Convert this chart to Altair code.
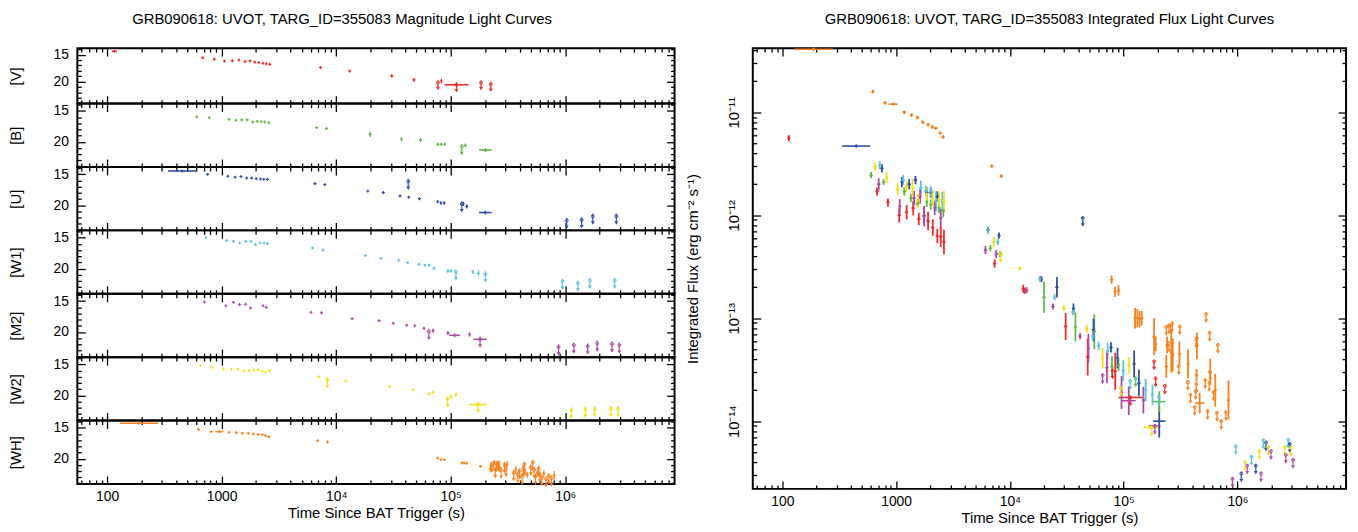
import math
import altair as alt
import pandas as pd

FONT = "Liberation Sans"
FILTERS = ["V", "B", "U", "W1", "M2", "W2", "WH"]
COLORS = ["#ee2b2b", "#63b946", "#2e4fa6", "#5cc5dc", "#b04aa6", "#f2df1a", "#f4821f"]

TITLE_L = "GRB090618: UVOT, TARG_ID=355083 Magnitude Light Curves"
TITLE_R = "GRB090618: UVOT, TARG_ID=355083 Integrated Flux Light Curves"
XTITLE = "Time Since BAT Trigger (s)"
YTITLE_R = "Integrated Flux (erg cm⁻² s⁻¹)"

# ---------------- magnitude light curves ----------------
V_T = [684, 863, 1059, 1242, 1419, 1600, 1767, 1951, 2113, 2302, 2460, 2630, 7300, 13100, 30600, 47800, 77400, 83000, 184000, 224000]
V_MAG = [15.6, 15.85, 16.2, 16.15, 16.0, 16.3, 16.2, 16.4, 16.45, 16.6, 16.7, 16.8, 17.4, 18.05, 18.95, 19.7, 20.2, 19.9, 20.2, 20.5]
V_ERR = [0.08, 0.08, 0.08, 0.08, 0.08, 0.08, 0.1, 0.1, 0.1, 0.12, 0.12, 0.15, 0.1, 0.12, 0.3, 0.35, 0, 0.4, 0, 0]
V_UL = [0] * 16 + [1, 0, 1, 1]

B_T = [607, 781, 1164, 1331, 1497, 1674, 1877, 2043, 2213, 2383, 2579, 6750, 8230, 19800, 37200, 54500, 77400, 82700, 88500, 125000, 134000]
B_MAG = [15.97, 16.1, 16.35, 16.5, 16.45, 16.45, 16.8, 16.7, 16.75, 16.8, 16.9, 17.7, 17.85, 18.8, 19.55, 19.7, 20.4, 20.4, 20.4, 20.8, 20.6]
B_ERR = [0.08] * 6 + [0.1] * 7 + [0.45, 0.3, 0.35, 0.25, 0.25, 0.25, 0, 0.3]
B_UL = [0] * 19 + [1, 0]

U_T = [755, 1133, 1310, 1476, 1654, 1828, 2004, 2185, 2334, 2512, 6530, 7960, 18900, 25800, 36100, 42600, 43000, 53300, 76900, 82200, 87900, 125000, 129000, 138000, 1030000, 1390000, 1740000, 2790000]
U_MAG = [15.0, 15.3, 15.45, 15.35, 15.6, 15.6, 15.7, 15.75, 15.8, 15.8, 16.5, 16.65, 17.7, 17.95, 18.5, 16.15, 18.7, 18.95, 19.45, 19.65, 19.65, 19.8, 19.8, 20.2, 22.5, 22.4, 21.8, 21.8]
U_ERR = [0.06] * 12 + [0.08, 0.15, 0.12, 0, 0.12, 0.15, 0.2, 0.25, 0.25, 0, 0.35, 0.35, 0, 0, 0, 0]
U_UL = [0] * 15 + [1] + [0] * 5 + [1, 0, 0] + [1] * 4

W1_T = [731, 1105, 1268, 1437, 1622, 1803, 1977, 2168, 2349, 2512, 6220, 7690, 18000, 24600, 35200, 42100, 52800, 59500, 64800, 71600, 94600, 100500, 111000, 156000, 175000, 201000, 946000, 1290000, 1640000, 2700000]
W1_MAG = [15.0, 15.45, 15.55, 15.85, 15.6, 15.6, 16.1, 15.85, 15.85, 15.95, 16.65, 17.0, 17.9, 18.35, 18.65, 19.05, 19.3, 19.45, 19.45, 19.95, 20.4, 20.4, 20.55, 20.55, 20.8, 20.9, 22.1, 22.4, 21.95, 21.95]
W1_ERR = [0.06] * 12 + [0.08, 0.08, 0.08, 0.1, 0.15, 0.15, 0.2, 0.25, 0.3, 0.3, 0, 0.35, 0.5, 0, 0, 0, 0, 0]
W1_UL = [0] * 22 + [1, 0, 0, 1] + [1] * 4

M2_T = [708, 1089, 1268, 1435, 1618, 1786, 2301, 2455, 6030, 7450, 13800, 23700, 31500, 41300, 48400, 58400, 64500, 70200, 94600, 146000, 874000, 1190000, 1570000, 1900000, 2560000, 2960000]
M2_MAG = [15.15, 15.75, 15.2, 15.55, 15.5, 16.1, 15.75, 16.0, 16.8, 16.9, 17.85, 18.15, 18.6, 18.9, 19.0, 19.4, 19.95, 19.8, 20.2, 20.4, 22.45, 22.15, 22.3, 21.85, 21.95, 22.15]
M2_ERR = [0.07] * 8 + [0.08, 0.08, 0.1, 0.1, 0.12, 0.12, 0.15, 0.2, 0, 0.35, 0.3, 0.35] + [0] * 6
M2_UL = [0] * 16 + [1] + [0] * 3 + [1] * 6

W2_T = [653, 824, 1038, 1216, 1390, 1567, 1733, 1916, 2086, 2260, 2415, 2615, 7060, 8380, 12100, 29400, 47100, 64500, 70200, 94000, 100500, 111000, 1130000, 1500000, 1810000, 2510000, 2880000]
W2_MAG = [15.2, 15.45, 15.75, 15.75, 15.75, 16.05, 16.0, 15.9, 15.9, 16.1, 16.2, 16.0, 17.0, 17.5, 17.65, 18.6, 19.1, 19.75, 19.5, 20.6, 20.2, 19.85, 22.4, 22.3, 22.2, 22.2, 22.2]
W2_ERR = [0.06] * 12 + [0.1, 0, 0.05, 0.08, 0.1, 0.3, 0.3, 0, 0.3, 0.3] + [0] * 5
W2_UL = [0] * 13 + [1] + [0] * 5 + [1, 0, 0] + [1] * 5

WH_T = [628, 807, 1164, 1346, 1517, 1710, 1889, 2086, 2260, 2415, 2579, 6890, 8390,
        76900, 82300, 87900, 125000, 131000, 138000, 182000,
        222000, 228000, 235000, 240000, 245000, 250000, 255000, 262000, 268000, 275000,
        295000, 305000, 310000, 355000, 370000, 385000, 400000, 420000, 430000, 440000,
        445000, 466000, 500000, 520000, 535000, 550000, 570000, 585000, 600000, 625000,
        650000, 680000, 720000, 760000, 800000]
WH_MAG = [15.25, 15.6, 15.7, 15.75, 15.85, 15.9, 16.0, 16.05, 16.1, 16.25, 16.45, 17.1, 17.3,
          19.9, 20.15, 20.15, 20.7, 20.7, 20.75, 21.25,
          21.6, 20.9, 21.2, 20.6, 21.8, 20.8, 21.3, 20.7, 21.5, 21.9,
          21.0, 21.6, 20.9, 22.3, 21.8, 22.6, 22.0, 22.9, 21.5, 20.9,
          22.2, 22.6, 21.4, 20.6, 21.8, 22.9, 22.3, 21.6, 22.5, 23.1,
          22.4, 23.3, 22.8, 23.2, 22.7]
WH_ERR = [0.05] * 13 + [0.12, 0.12, 0.12, 0.15, 0.15, 0.15, 0.2] + \
         [0.6, 0, 0.5, 0.4, 0, 0, 0.5, 0, 0.6, 0, 0, 0, 0.5, 0, 0.6, 0, 0, 0, 0, 0,
          0.6, 0.5, 0, 0, 0, 0, 0.6, 0, 0, 0, 0.6, 0, 0, 0, 0.7]
WH_UL = [0] * 20 + [0, 1, 0, 0, 1, 1, 0, 1, 0, 1, 1, 1, 0, 1, 0, 1, 1, 1, 1, 1,
                    0, 0, 1, 1, 1, 1, 0, 1, 1, 1, 0, 1, 1, 1, 0]

# wide time bins in the magnitude panels
MB_FILTER = ["V", "V", "B", "U", "U", "M2", "M2", "W2", "WH", "WH"]
MB_T0 = [110, 88500, 177000, 341, 177000, 97000, 158000, 145000, 130, 881]
MB_T1 = [122, 143000, 228000, 600, 228000, 121000, 206000, 207000, 279, 1035]
MB_MAG = [14.4, 20.6, 21.35, 14.45, 21.2, 20.55, 21.2, 21.5, 14.25, 15.6]
MB_ERR = [0.1, 0, 0.3, 0.05, 0.3, 0.3, 0, 0, 0.05, 0.05]
MB_UL = [0, 1, 0, 0, 0, 0, 1, 1, 0, 0]

# ---------------- integrated flux light curves ----------------
V_FT = [114, 680, 848, 1066, 1237, 1413, 1582, 1762, 1910, 2100, 2302, 2467, 2633, 7340, 13100, 13500, 30900, 48300, 79800, 84300, 185000, 191000, 230000]
V_F = [5.6e-12, 1.7e-12, 1.33e-12, 1.0e-12, 1.07e-12, 1.17e-12, 9.2e-13, 9.9e-13, 8.8e-13, 7.6e-13, 6.3e-13, 6.2e-13, 5.5e-13, 3.4e-13, 1.93e-13, 1.85e-13, 8.3e-14, 4.2e-14, 3.1e-14, 3.05e-14, 3.8e-14, 2.6e-14, 2.2e-14]
V_FE = [0.03, 0.04, 0.04, 0.07, 0.07, 0.07, 0.06, 0.08, 0.09, 0.08, 0.07, 0.1, 0.12, 0.04, 0.04, 0.03, 0.13, 0.18, 0, 0.18, 0, 0, 0]
V_FUL = [0] * 18 + [1, 0, 1, 1, 1]

B_FT = [603, 776, 1180, 1348, 1541, 1860, 2013, 2381, 2600, 6730, 8200, 19950, 37700, 55200, 78900, 90100, 127600]
B_F = [2.45e-12, 2.1e-12, 1.7e-12, 1.47e-12, 1.3e-12, 1.35e-12, 1.27e-12, 1.18e-12, 1.1e-12, 4.8e-13, 4.2e-13, 1.6e-13, 8.2e-14, 7.4e-14, 3.4e-14, 3.5e-14, 2.6e-14]
B_FE = [0.03, 0.03, 0.04, 0.04, 0.03, 0.05, 0.05, 0.05, 0.06, 0.03, 0.03, 0.15, 0.14, 0.17, 0.1, 0.06, 0]
B_FUL = [0] * 16 + [1]

U_FT = [751, 1124, 1303, 1480, 1860, 2013, 2302, 6430, 8020, 18900, 25900, 36200, 43700, 54300, 77300, 88300, 123600, 136000, 1080000, 1450000, 1780000, 2880000]
U_F = [2.85e-12, 2.1e-12, 2.0e-12, 2.2e-12, 1.66e-12, 1.67e-12, 1.52e-12, 7.2e-13, 6.35e-13, 2.4e-13, 2.0e-13, 1.24e-13, 9.4e-13, 7.7e-14, 5.2e-14, 4.1e-14, 3.6e-14, 2.35e-14, 3.1e-15, 3.7e-15, 6.2e-15, 6.0e-15]
U_FE = [0.04, 0.05, 0.05, 0.04, 0.05, 0.05, 0.05, 0.03, 0.03, 0.03, 0.1, 0.05, 0, 0.11, 0.05, 0.1, 0.13, 0.13, 0, 0, 0, 0]
U_FUL = [0] * 12 + [1] + [0] * 5 + [1] * 4

W1_FT = [718, 1156, 1648, 1824, 2013, 2244, 2548, 6430, 7820, 18300, 24700, 35800, 53400, 60300, 72300, 99100, 114000, 156000, 179000, 204000, 966000, 1330000, 1690000, 2790000]
W1_F = [3.06e-12, 2.2e-12, 1.85e-12, 1.73e-12, 1.7e-12, 1.37e-12, 1.37e-12, 7.1e-13, 5.5e-13, 2.4e-13, 1.6e-13, 1.15e-13, 6.7e-14, 5.4e-14, 4.8e-14, 3.1e-14, 2.45e-14, 2.0e-14, 1.8e-14, 1.7e-14, 5.7e-15, 4.5e-15, 6.5e-15, 6.6e-15]
W1_FE = [0.04, 0.05, 0.07, 0.05, 0.05, 0.1, 0.09, 0.03, 0.03, 0.03, 0.03, 0.03, 0.05, 0.04, 0.08, 0.1, 0, 0.11, 0.1, 0, 0, 0, 0, 0]
W1_FUL = [0] * 16 + [1, 0, 0, 1] + [1] * 4

M2_FT = [703, 1076, 1441, 1626, 1762, 2184, 2467, 6100, 7590, 14000, 23900, 41400, 49000, 65300, 71300, 95700, 149000, 904000, 1220000, 1610000, 1970000, 2660000, 3080000]
M2_F = [2.0e-12, 1.22e-12, 1.47e-12, 1.52e-12, 9.8e-13, 1.18e-12, 9.4e-13, 4.6e-13, 4.2e-13, 1.87e-13, 1.3e-13, 6.7e-14, 5.1e-14, 2.8e-14, 3.3e-14, 1.9e-14, 1.6e-14, 2.75e-15, 3.7e-15, 3.1e-15, 5.1e-15, 4.7e-15, 4.2e-15]
M2_FE = [0.06, 0.07, 0.07, 0.07, 0.1, 0.07, 0.09, 0.04, 0.04, 0.03, 0.03, 0.03, 0.14, 0, 0.15, 0.16, 0.13, 0, 0, 0, 0, 0, 0]
M2_FUL = [0] * 13 + [1] + [0] * 3 + [1] * 6

W2_FT = [653, 826, 1030, 1237, 1394, 1563, 1860, 2100, 2381, 2633, 7210, 8330, 12200, 29800, 47300, 65300, 94400, 111800, 1170000, 1560000, 1870000, 2610000, 2950000]
W2_F = [2.96e-12, 2.33e-12, 1.8e-12, 1.9e-12, 1.86e-12, 1.39e-12, 1.6e-12, 1.47e-12, 1.42e-12, 1.37e-12, 5.5e-13, 4.2e-13, 3.05e-13, 1.25e-13, 7.9e-14, 4.1e-14, 2.1e-14, 3.5e-14, 4.0e-15, 5.1e-15, 5.6e-15, 5.6e-15, 5.5e-15]
W2_FE = [0.04, 0.05, 0.06, 0.05, 0.08, 0.07, 0.06, 0.08, 0.08, 0.1, 0.05, 0, 0.02, 0.03, 0.04, 0.1, 0, 0.08, 0, 0, 0, 0, 0]
W2_FUL = [0] * 11 + [1] + [0] * 4 + [1, 0] + [1] * 5

WH_FT = [624, 798, 1180, 1366, 1540, 1714, 1910, 2083, 2228, 2433, 2583, 6920, 8400,
         78300, 83800, 90100, 126000, 132000, 138000, 144000, 185000, 191000,
         237000, 237000, 241000, 250000, 250000, 258000, 262000, 267000, 270000, 305000,
         309000, 311000, 366000, 368000, 386000, 421000, 430000, 433000, 435000, 437000,
         440000, 440000, 522000, 530000, 547000, 566000, 570000, 577000, 577000, 616000,
         638000, 661000, 673000, 720000, 791000, 834000]
WH_F = [1.59e-11, 1.24e-11, 1.0e-11, 9.4e-12, 8.9e-12, 8.0e-12, 7.6e-12, 7.2e-12, 7.0e-12, 6.3e-12, 5.75e-12, 3.0e-12, 2.4e-12,
        2.37e-13, 1.8e-13, 1.86e-13, 1.0e-13, 1.0e-13, 9.8e-14, 1.0e-13, 6.6e-14, 5.6e-14,
        8.2e-14, 3.4e-14, 5.5e-14, 8.5e-14, 5.7e-14, 8.5e-14, 4.7e-14, 8.9e-14, 4.4e-14, 3.4e-14,
        4.5e-14, 8.3e-14, 2.4e-14, 3.6e-14, 1.8e-14, 1.37e-14, 1.95e-14, 6.2e-14, 2.3e-14, 2.8e-14,
        6.4e-14, 5.4e-14, 2.5e-14, 1.1e-13, 1.25e-14, 2.35e-14, 7.2e-14, 3.0e-14, 3.0e-14, 1.9e-14,
        2.0e-14, 1.2e-14, 5.5e-14, 1.0e-14, 1.22e-14, 1.6e-14]
WH_FE = [0.015] * 13 + [0.04, 0.05, 0.05, 0.1, 0.09, 0.08, 0.07, 0.18, 0.07,
                        0, 0.11, 0.08, 0, 0, 0, 0.2, 0, 0.16, 0,
                        0.12, 0, 0, 0.14, 0, 0, 0, 0, 0, 0.06,
                        0, 0.13, 0, 0, 0, 0, 0, 0, 0.13, 0,
                        0.16, 0, 0, 0, 0, 0.19]
WH_FUL = [0] * 22 + [1, 0, 0, 1, 1, 1, 0, 1, 0, 1,
                     0, 1, 1, 0, 1, 1, 1, 1, 1, 0,
                     1, 0, 1, 1, 1, 1, 1, 1, 0, 1,
                     0, 1, 1, 1, 1, 0]

# wide time bins in the flux panel
FB_FILTER = ["WH", "WH", "WH", "U", "U", "V", "M2", "M2", "B", "W2"]
FB_T0 = [127, 859, 421000, 336, 181000, 90100, 96400, 167000, 181000, 149000]
FB_T1 = [279, 1030, 514000, 592, 233000, 146000, 127600, 211000, 233000, 208000]
FB_FLUX = [4.1e-11, 1.2e-11, 1.5e-14, 4.7e-12, 1.0e-14, 1.7e-14, 1.58e-14, 9e-15, 1.55e-14, 8.7e-15]
FB_ERR = [0.01, 0.01, 0.1, 0.01, 0.16, 0, 0.14, 0, 0.1, 0]
FB_UL = [0, 0, 0, 0, 0, 1, 0, 1, 0, 1]

# ---------------- axes ----------------
XDOM = [55, 9.0e6]
MAGDOM = [13.8, 24.1]
FLUXDOM = [2.2e-15, 4.2e-11]
X_TICKS = [100, 1000, 1e4, 1e5, 1e6]
X_LABELS = ["100", "1000", "10⁴", "10⁵", "10⁶"]
X_MINOR = [m * 10 ** k for k in range(1, 7) for m in range(2, 10) if XDOM[0] < m * 10 ** k < XDOM[1]]
MAG_TICKS = [15, 20]
MAG_MINOR = [14, 16, 17, 18, 19, 21, 22, 23, 24]
F_TICKS = [1e-14, 1e-13, 1e-12, 1e-11]
F_LABELS = ["10⁻¹⁴", "10⁻¹³", "10⁻¹²", "10⁻¹¹"]
F_MINOR = [m * 10.0 ** k for k in range(-15, -10) for m in range(2, 10) if FLUXDOM[0] < m * 10.0 ** k < FLUXDOM[1]]

MAG_SERIES = [("V", V_T, V_MAG, V_ERR, V_UL), ("B", B_T, B_MAG, B_ERR, B_UL), ("U", U_T, U_MAG, U_ERR, U_UL),
              ("W1", W1_T, W1_MAG, W1_ERR, W1_UL), ("M2", M2_T, M2_MAG, M2_ERR, M2_UL),
              ("W2", W2_T, W2_MAG, W2_ERR, W2_UL), ("WH", WH_T, WH_MAG, WH_ERR, WH_UL)]
FLUX_SERIES = [("V", V_FT, V_F, V_FE, V_FUL), ("B", B_FT, B_F, B_FE, B_FUL), ("U", U_FT, U_F, U_FE, U_FUL),
               ("W1", W1_FT, W1_F, W1_FE, W1_FUL), ("M2", M2_FT, M2_F, M2_FE, M2_FUL),
               ("W2", W2_FT, W2_F, W2_FE, W2_FUL), ("WH", WH_FT, WH_F, WH_FE, WH_FUL)]


def build(series, bins):
    rows = []
    for f, T, V, E, U in series:
        for t, v, e, u in zip(T, V, E, U):
            rows.append(dict(filter=f, t=t, t0=t, t1=t, val=v, err=e, ul=u, bin=0))
    for f, t0, t1, v, e, u in zip(*bins):
        rows.append(dict(filter=f, t=math.sqrt(t0 * t1), t0=t0, t1=t1, val=v, err=e, ul=u, bin=1))
    return pd.DataFrame(rows)


mag_df = build(MAG_SERIES, (MB_FILTER, MB_T0, MB_T1, MB_MAG, MB_ERR, MB_UL))
mag_df["lo"] = mag_df.val - mag_df.err
mag_df["hi"] = mag_df.val + mag_df.err
mag_df["ua"] = mag_df.val - 0.45
mag_df["ub"] = mag_df.val + 1.1

flux_df = build(FLUX_SERIES, (FB_FILTER, FB_T0, FB_T1, FB_FLUX, FB_ERR, FB_UL))
flux_df["lo"] = flux_df.val / 10 ** flux_df.err
flux_df["hi"] = flux_df.val * 10 ** flux_df.err
flux_df["ua"] = flux_df.val * 1.04
flux_df["ub"] = flux_df.val / 1.17


def label_expr(ticks, labels):
    expr = "''"
    for v, l in zip(reversed(ticks), reversed(labels)):
        expr = f"round(log(datum.value) / LN10) == {round(math.log10(v))} ? '{l}' : {expr}"
    return expr


X_EXPR = label_expr(X_TICKS, X_LABELS)
F_EXPR = label_expr(F_TICKS, F_LABELS)


def ax(orient, values, size, **kw):
    base = dict(orient=orient, values=values, tickSize=size, offset=-size, domain=False, grid=False,
                tickColor="black", tickWidth=1.3, labels=False,
                labelFont=FONT, labelFontSize=14, labelColor="black",
                titleFont=FONT, titleFontSize=15, titleFontWeight="normal", titleColor="black")
    base.update(kw)
    return alt.Axis(**base)


XS = alt.Scale(type="log", domain=XDOM, nice=False)


def panel(src, ys, color, axes, xtitle, ytitle, pt_size, err_w, head_size):
    """axes: list of 4 (xaxis, yaxis) pairs for carriers."""
    carrier = alt.Chart(src).mark_point(opacity=0)
    layers = []
    for i, (xa, ya) in enumerate(axes):
        layers.append(carrier.encode(
            x=alt.X("t:Q", scale=XS, axis=xa, title=xtitle if i == 0 else None),
            y=alt.Y("val:Q", scale=ys, axis=ya, title=ytitle if i == 0 else None)))
    base = alt.Chart(src)
    xe = alt.X("t:Q", scale=XS, axis=None)
    layers.append(base.transform_filter("datum.bin == 1").mark_rule(strokeWidth=1.6).encode(
        x=alt.X("t0:Q", scale=XS, axis=None), x2="t1:Q", y=alt.Y("val:Q", scale=ys, axis=None), color=color))
    layers.append(base.transform_filter("datum.ul == 0").mark_rule(strokeWidth=err_w).encode(
        x=xe, y=alt.Y("lo:Q", scale=ys, axis=None), y2="hi:Q", color=color))
    layers.append(base.transform_filter("datum.ul == 0").mark_point(shape="cross", filled=True, size=pt_size, opacity=1).encode(
        x=xe, y=alt.Y("val:Q", scale=ys, axis=None), color=color))
    layers.append(base.transform_filter("datum.ul == 1").mark_rule(strokeWidth=1.2).encode(
        x=xe, y=alt.Y("ua:Q", scale=ys, axis=None), y2="ub:Q", color=color))
    layers.append(base.transform_filter("datum.ul == 1").mark_point(shape="triangle-down", filled=True, size=head_size, opacity=1).encode(
        x=xe, y=alt.Y("ub:Q", scale=ys, axis=None), color=color))
    layers.append(base.transform_filter("datum.ul == 1").mark_point(shape="circle", filled=False, size=9, strokeWidth=1, opacity=1).encode(
        x=xe, y=alt.Y("val:Q", scale=ys, axis=None), color=color))
    return alt.layer(*layers).resolve_axis(x="independent", y="independent")


# ---------------- left: seven magnitude panels ----------------
MAG_YS = alt.Scale(domain=MAGDOM, reverse=True, nice=False, zero=False)
left_panels = []
for i, (f, col) in enumerate(zip(FILTERS, COLORS)):
    last = i == len(FILTERS) - 1
    src = mag_df[mag_df["filter"] == f]
    xb_major = ax("bottom", X_TICKS, 8, labels=last, labelExpr=X_EXPR, labelPadding=6,
                  labelOverlap=False, labelFlush=False, titlePadding=2) if last else ax("bottom", X_TICKS, 8)
    axes = [
        (xb_major, ax("left", MAG_TICKS, 8, labels=True, labelPadding=9, minExtent=40, maxExtent=40, titlePadding=22)),
        (ax("bottom", X_MINOR, 4), ax("left", MAG_MINOR, 4)),
        (ax("top", X_TICKS, 8), ax("right", MAG_TICKS, 8)),
        (ax("top", X_MINOR, 4), ax("right", MAG_MINOR, 4)),
    ]
    p = panel(src, MAG_YS, alt.value(col), axes, XTITLE if last else None, f"[{f}]", 9, 1.2, 16)
    left_panels.append(p.properties(width=603, height=56 if i == 0 else 64))

left = alt.vconcat(*left_panels, spacing=0, bounds="flush",
                   title=alt.TitleParams(TITLE_L, font=FONT, fontSize=15, fontWeight="normal",
                                         color="black", anchor="middle", offset=20))

# ---------------- right: integrated flux ----------------
FLUX_YS = alt.Scale(type="log", domain=FLUXDOM, nice=False)
color_enc = alt.Color("filter:N", scale=alt.Scale(domain=FILTERS, range=COLORS), legend=None)
r_axes = [
    (ax("bottom", X_TICKS, 8, labels=True, labelExpr=X_EXPR, labelPadding=6, labelOverlap=False,
        labelFlush=False, titlePadding=2),
     ax("left", F_TICKS, 8, labels=True, labelExpr=F_EXPR, labelAngle=270, labelAlign="center",
        labelBaseline="bottom", labelPadding=11, labelFontSize=15, labelOverlap=False, labelFlush=False,
        minExtent=36, maxExtent=36, titlePadding=25)),
    (ax("bottom", X_MINOR, 4), ax("left", F_MINOR, 4)),
    (ax("top", X_TICKS, 8), ax("right", F_TICKS, 8)),
    (ax("top", X_MINOR, 4), ax("right", F_MINOR, 4)),
]
right = panel(flux_df, FLUX_YS, color_enc, r_axes, XTITLE, YTITLE_R, 12, 1.8, 16).properties(
    width=599, height=445,
    title=alt.TitleParams(TITLE_R, font=FONT, fontSize=15, fontWeight="normal", color="black",
                          anchor="middle", offset=20))

chart = alt.hconcat(left, right, spacing=8).properties(
    padding={"left": 0, "top": 0, "right": 2, "bottom": 2}, background="white"
).configure_view(stroke="black", strokeWidth=2)

chart.save("out.html", embed_options={"renderer": "svg", "actions": False})
